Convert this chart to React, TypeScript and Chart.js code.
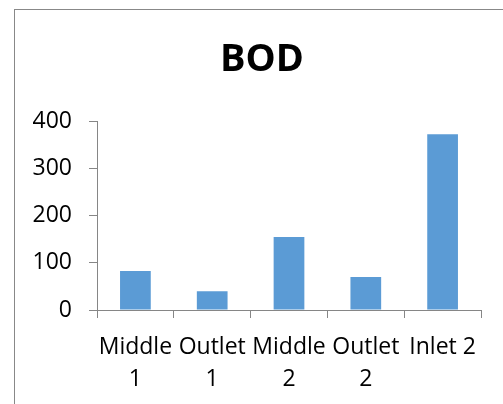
import React, { useEffect, useRef } from "react";
import { Chart, registerables } from "chart.js";

Chart.register(...registerables);

const categories: string[][] = [["Middle", "1"], ["Outlet", "1"], ["Middle", "2"], ["Outlet", "2"], ["Inlet 2"]];
const bodValues: number[] = [83, 40, 155, 70, 373];
const yTicks: number[] = [0, 100, 200, 300, 400];
const titleText = "BOD";

export default function App() {
  const ref = useRef<HTMLCanvasElement | null>(null);
  useEffect(() => {
    if (!ref.current) return;
    const axisColor = "#868686";
    const chart = new Chart(ref.current, {
      type: "bar",
      data: {
        labels: categories,
        datasets: [
          {
            label: titleText,
            data: bodValues,
            backgroundColor: "#5B9BD5",
            barPercentage: 0.4,
            categoryPercentage: 1,
          },
        ],
      },
      options: {
        animation: false,
        responsive: false,
        maintainAspectRatio: false,
        layout: { padding: 0 },
        plugins: {
          legend: { display: false },
          tooltip: { enabled: false },
          title: {
            display: true,
            text: titleText,
            color: "#000",
            font: { family: "'Open Sans'", size: 38, weight: "bold", lineHeight: 1.2 },
            padding: { top: 27, bottom: 39 },
          },
        },
        scales: {
          x: {
            offset: true,
            grid: {
              offset: true,
              drawOnChartArea: false,
              drawTicks: true,
              tickLength: 8,
              color: axisColor,
            },
            border: { display: true, color: axisColor, width: 1 },
            ticks: {
              color: "#000",
              font: { family: "'Open Sans'", size: 23, lineHeight: 1.39 },
              padding: 13,
              maxRotation: 0,
              minRotation: 0,
              autoSkip: false,
            },
            afterFit: (scale: any) => {
              scale.height = 94;
            },
          },
          y: {
            min: 0,
            max: 400,
            afterBuildTicks: (scale: any) => {
              scale.ticks = yTicks.map((v) => ({ value: v }));
            },
            grid: {
              drawOnChartArea: false,
              drawTicks: true,
              tickLength: 8,
              color: axisColor,
            },
            border: { display: true, color: axisColor, width: 1 },
            ticks: {
              color: "#000",
              font: { family: "'Open Sans'", size: 23 },
              padding: 17,
            },
            afterFit: (scale: any) => {
              scale.width = 82;
            },
          },
          yRight: {
            position: "right",
            display: true,
            min: 0,
            max: 400,
            grid: { display: false, drawTicks: false },
            border: { display: false },
            ticks: { display: false },
            afterFit: (scale: any) => {
              scale.width = 28;
            },
          },
        },
      },
    });
    return () => chart.destroy();
  }, []);

  return (
    <div style={{ position: "fixed", left: 0, top: 0, width: 503, height: 404, overflow: "hidden", background: "#fff" }}>
      <div
        style={{
          position: "absolute",
          left: 14,
          top: 9,
          width: 494,
          height: 395,
          borderLeft: "1px solid #888",
          borderTop: "1px solid #888",
        }}
      >
        <canvas ref={ref} width={494} height={394} style={{ display: "block", width: 494, height: 394 }} />
      </div>
    </div>
  );
}
